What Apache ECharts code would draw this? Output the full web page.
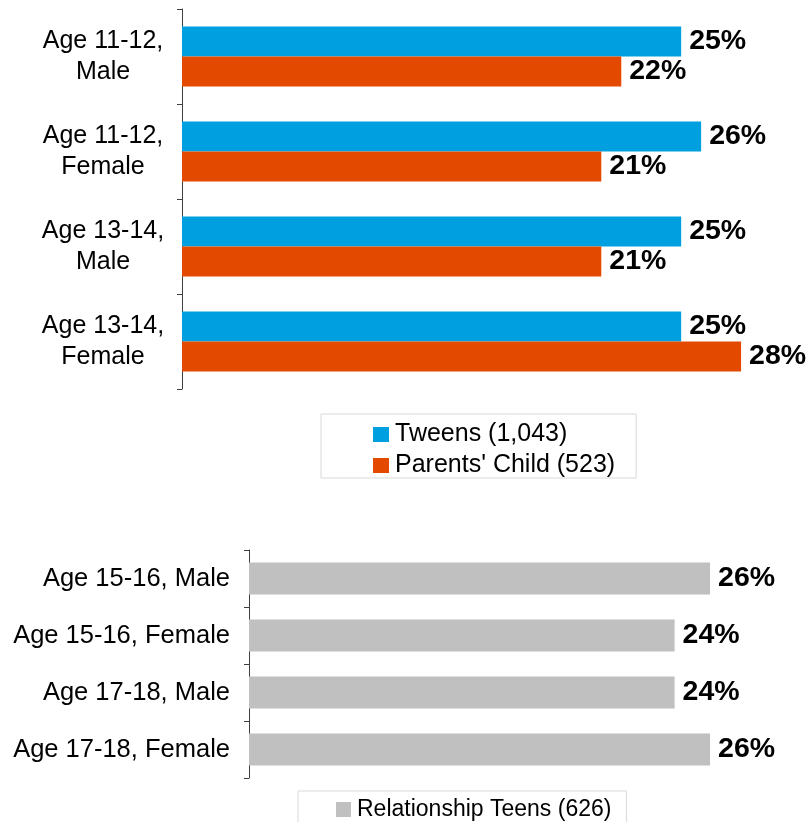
<!DOCTYPE html>
<html>
<head>
<meta charset="utf-8">
<script src="https://cdn.jsdelivr.net/npm/echarts@6/dist/echarts.min.js"></script>
<style>
  html, body { margin: 0; padding: 0; background: #fff; }
  #main { width: 810px; height: 822px; }
</style>
</head>
<body>
<div id="main"></div>
<script>
// top chart
const tweenCats = ['Age 11-12,\nMale', 'Age 11-12,\nFemale', 'Age 13-14,\nMale', 'Age 13-14,\nFemale'];
const tweens = [25, 26, 25, 25];
const parentsChild = [22, 21, 21, 28];

// bottom chart
const teenCats = ['Age 15-16, Male', 'Age 15-16, Female', 'Age 17-18, Male', 'Age 17-18, Female'];
const relTeens = [26, 24, 24, 26];

const FONT = 'Liberation Sans, Arial, sans-serif';

const chart = echarts.init(document.getElementById('main'));

const valueLabel = {
    show: true,
    position: 'right',
    distance: 8,
    formatter: '{c}%',
    color: '#000',
    fontFamily: FONT,
    fontWeight: 'bold',
    fontSize: 28.5
};

const axisLineStyle = { color: '#404040', width: 1 };

chart.setOption({
    animation: false,
    textStyle: { fontFamily: FONT },
    grid: [
        { left: 182, right: 29, top: 9, height: 380 },
        { left: 249, right: 29, top: 550, height: 228 }
    ],
    xAxis: [
        { type: 'value', gridIndex: 0, min: 0, max: 30, show: false },
        { type: 'value', gridIndex: 1, min: 0, max: 30, show: false }
    ],
    yAxis: [
        {
            type: 'category', gridIndex: 0, data: tweenCats, inverse: true,
            axisLine: { show: true, lineStyle: axisLineStyle },
            axisTick: { show: true, length: 5, lineStyle: axisLineStyle },
            axisLabel: {
                color: '#000', fontSize: 25, fontFamily: FONT,
                align: 'center', margin: 79, lineHeight: 31
            }
        },
        {
            type: 'category', gridIndex: 1, data: teenCats, inverse: true,
            axisLine: { show: true, lineStyle: axisLineStyle },
            axisTick: { show: true, length: 5, lineStyle: axisLineStyle },
            axisLabel: { color: '#000', fontSize: 25.5, fontFamily: FONT, margin: 19 }
        }
    ],
    legend: [
        {
            data: ['Tweens (1,043)', "Parents' Child (523)"],
            orient: 'vertical',
            left: 321, top: 414,
            padding: [8, 21, 0, 52],
            borderColor: '#d9d9d9', borderWidth: 1,
            itemWidth: 16, itemHeight: 15, itemGap: 6,
            icon: 'rect',
            textStyle: { color: '#000', fontSize: 25, fontFamily: FONT, padding: [0, 0, 0, 1] }
        },
        {
            data: ['Relationship Teens (626)'],
            orient: 'vertical',
            left: 298, top: 791,
            padding: [7, 15, 10, 38],
            borderColor: '#d9d9d9', borderWidth: 1,
            itemWidth: 15, itemHeight: 15,
            icon: 'rect',
            textStyle: { color: '#000', fontSize: 23, fontFamily: FONT, padding: [0, 0, 0, 1] }
        }
    ],
    series: [
        {
            name: 'Tweens (1,043)', type: 'bar', xAxisIndex: 0, yAxisIndex: 0,
            data: tweens, barWidth: 30, barGap: '0%',
            itemStyle: { color: '#009fe0' }, label: valueLabel
        },
        {
            name: "Parents' Child (523)", type: 'bar', xAxisIndex: 0, yAxisIndex: 0,
            data: parentsChild, barWidth: 30, barGap: '0%',
            itemStyle: { color: '#e34a00' }, label: valueLabel
        },
        {
            name: 'Relationship Teens (626)', type: 'bar', xAxisIndex: 1, yAxisIndex: 1,
            data: relTeens, barWidth: 32,
            itemStyle: { color: '#c0c0c0' }, label: valueLabel
        }
    ]
});
</script>
</body>
</html>
